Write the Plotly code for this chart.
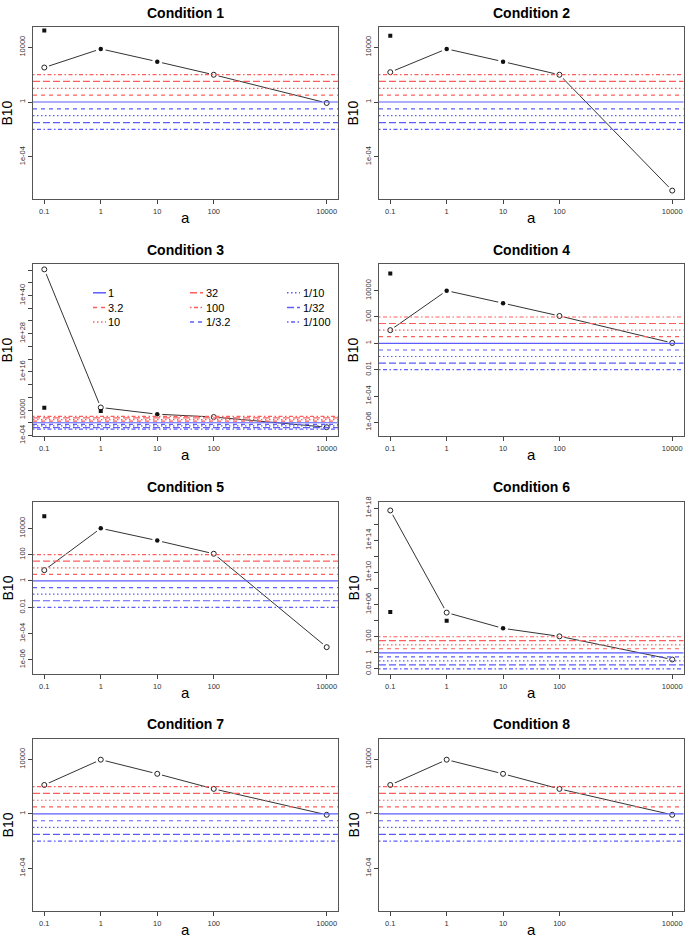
import plotly.graph_objects as go
from plotly.subplots import make_subplots

# ---------------- data ----------------
a_vals = [0.1, 1, 10, 100, 10000]
x_ticktext = ["0.1", "1", "10", "100", "10000"]

titles = ["Condition 1", "Condition 2", "Condition 3", "Condition 4",
          "Condition 5", "Condition 6", "Condition 7", "Condition 8"]

b10_c1 = [331, 7600, 890, 98, 0.85]
b10_c2 = [151, 7600, 890, 98, 3.4e-7]
b10_c3 = [1.6e48, 6.3e4, 500, 63, 0.04]
b10_c4 = [10, 1.0e4, 1120, 120, 1.07]
b10_c5 = [6.6, 1.0e4, 1175, 117, 9.3e-6]
b10_c6 = [5.0e17, 1.0e5, 1100, 112, 0.148]
b10_c7 = [132, 9500, 870, 68, 0.85]
b10_c8 = [132, 9500, 870, 68, 0.85]

filled_c1 = [False, True, True, False, False]
filled_c2 = [False, True, True, False, False]
filled_c3 = [False, False, True, False, False]
filled_c4 = [False, True, True, False, False]
filled_c5 = [False, True, True, False, False]
filled_c6 = [False, False, True, False, False]
filled_c7 = [False, False, False, False, False]
filled_c8 = [False, False, False, False, False]

sq_a_c1, sq_b_c1 = [0.1], [1.66e5]
sq_a_c2, sq_b_c2 = [0.1], [6.9e4]
sq_a_c3, sq_b_c3 = [0.1, 1], [5.0e4, 5.0e3]
sq_a_c4, sq_b_c4 = [0.1], [2.0e5]
sq_a_c5, sq_b_c5 = [0.1], [8.3e4]
sq_a_c6, sq_b_c6 = [0.1, 1], [1.15e5, 9.8e3]
sq_a_c7, sq_b_c7 = [], []
sq_a_c8, sq_b_c8 = [], []

ref_values = [1, 3.2, 10, 32, 100, 1 / 3.2, 1 / 10, 1 / 32, 1 / 100]
ref_labels = ["1", "3.2", "10", "32", "100", "1/3.2", "1/10", "1/32", "1/100"]

# y tick values / labels per panel
yt_std = [1e-4, 1, 1e4]
yl_std = ["1e-04", "1", "10000"]
yt_c3 = [10.0 ** p for p in range(-4, 49, 4)]
yl_c3 = ["1e-04", "", "10000", "", "", "1e+16", "", "", "1e+28", "", "", "1e+40", "", ""]
yt_c45 = [1e-6, 1e-4, 1e-2, 1, 1e2, 1e4]
yl_c45 = ["1e-06", "1e-04", "0.01", "1", "100", "10000"]
yt_c6 = [10.0 ** p for p in range(-2, 19, 2)]
yl_c6 = ["0.01", "1", "100", "", "1e+06", "", "1e+10", "", "1e+14", "", "1e+18"]

# ---------------- styling ----------------
W, H = 685, 944
FONT = "Liberation Sans, Arial, Helvetica, sans-serif"
RED = "#ff5c5c"
BLUE = "#5c5cff"
ref_colors = [BLUE, RED, RED, RED, RED, BLUE, BLUE, BLUE, BLUE]
ref_dash = ["solid", "4px,4px", "1.5px,2.5px", "7px,3px", "1.5px,2.5px,4px,2.5px",
            "4px,4px", "1.5px,2.5px", "7px,3px", "1.5px,2.5px,4px,2.5px"]

panels = [
    (b10_c1, filled_c1, sq_a_c1, sq_b_c1, (-7.12, 5.5), yt_std, yl_std),
    (b10_c2, filled_c2, sq_a_c2, sq_b_c2, (-7.12, 5.5), yt_std, yl_std),
    (b10_c3, filled_c3, sq_a_c3, sq_b_c3, (-4.3, 50.0), yt_c3, yl_c3),
    (b10_c4, filled_c4, sq_a_c4, sq_b_c4, (-7.07, 6.05), yt_c45, yl_c45),
    (b10_c5, filled_c5, sq_a_c5, sq_b_c5, (-7.1, 6.03), yt_c45, yl_c45),
    (b10_c6, filled_c6, sq_a_c6, sq_b_c6, (-2.68, 18.8), yt_c6, yl_c6),
    (b10_c7, filled_c7, sq_a_c7, sq_b_c7, (-7.16, 5.53), yt_std, yl_std),
    (b10_c8, filled_c8, sq_a_c8, sq_b_c8, (-7.16, 5.53), yt_std, yl_std),
]

# pixel layout of plot boxes
col_x = [(33, 338), (379, 683.5)]
row_y = [(22, 197), (262, 437), (503, 678), (743, 918)]
title_y = [7, 247, 487, 727]


def px_x(p):
    return p / W


def px_y(p):
    return 1 - p / H


fig = make_subplots(rows=4, cols=2)

annotations = []
for k, (b, filled, sqa, sqb, yr, ytv, ytt) in enumerate(panels):
    r, c = divmod(k, 2)
    row, col = r + 1, c + 1
    fig.add_trace(go.Scatter(x=a_vals, y=b, mode="lines",
                             line=dict(color="#333333", width=1),
                             showlegend=False, hoverinfo="skip"), row=row, col=col)
    fig.add_trace(go.Scatter(x=a_vals, y=b, mode="markers",
                             marker=dict(symbol="circle", size=10, color="white"),
                             showlegend=False, hoverinfo="skip"), row=row, col=col)
    ox = [a for a, f in zip(a_vals, filled) if not f]
    oy = [v for v, f in zip(b, filled) if not f]
    fx = [a for a, f in zip(a_vals, filled) if f]
    fy = [v for v, f in zip(b, filled) if f]
    fig.add_trace(go.Scatter(x=ox, y=oy, mode="markers",
                             marker=dict(symbol="circle-open", size=5, color="#222222",
                                         line=dict(width=1, color="#222222")),
                             showlegend=False), row=row, col=col)
    if fx:
        fig.add_trace(go.Scatter(x=fx, y=fy, mode="markers",
                                 marker=dict(symbol="circle", size=4.5, color="#111111"),
                                 showlegend=False), row=row, col=col)
    if sqa:
        fig.add_trace(go.Scatter(x=sqa, y=sqb, mode="markers",
                                 marker=dict(symbol="square", size=4, color="#111111"),
                                 showlegend=False), row=row, col=col)
    for v, colr, d in zip(ref_values, ref_colors, ref_dash):
        fig.add_hline(y=v, line=dict(color=colr, width=1.2, dash=d), row=row, col=col)

    x0, x1 = col_x[c]
    y0, y1 = row_y[r]
    sfx = "" if k == 0 else str(k + 1)
    fig.layout["xaxis" + sfx].update(
        domain=[px_x(x0), px_x(x1)], type="log", range=[-1.2, 4.2],
        tickvals=a_vals, ticktext=x_ticktext, ticks="outside", ticklen=4,
        tickcolor="#444444", tickfont=dict(size=7.5, color="#333333", family=FONT),
        showline=True, mirror=True, linecolor="#555555", linewidth=1,
        showgrid=False, zeroline=False, ticklabelstandoff=1)
    fig.layout["yaxis" + sfx].update(
        domain=[px_y(y1), px_y(y0)], type="log", range=list(yr),
        tickvals=ytv, ticktext=ytt, ticks="outside", ticklen=4, tickangle=-90,
        tickcolor="#444444", tickfont=dict(size=7.5, color="#333333", family=FONT),
        showline=True, mirror=True, linecolor="#555555", linewidth=1,
        showgrid=False, zeroline=False)

    cx = (x0 + x1) / 2
    annotations.append(dict(text="<b>" + titles[k] + "</b>", x=px_x(cx), y=px_y(title_y[r] + 1),
                            xref="paper", yref="paper", showarrow=False,
                            font=dict(size=14, family=FONT, color="black"),
                            xanchor="center", yanchor="middle"))
    annotations.append(dict(text="a", x=px_x(cx), y=px_y(y1 + 18),
                            xref="paper", yref="paper", showarrow=False,
                            font=dict(size=15, family=FONT, color="black"),
                            xanchor="center", yanchor="middle"))
    annotations.append(dict(text="B10", x=px_x(x0 - 25.5), y=px_y((y0 + y1) / 2),
                            xref="paper", yref="paper", showarrow=False, textangle=-90,
                            font=dict(size=14, family=FONT, color="black"),
                            xanchor="center", yanchor="middle"))

# legend in Condition 3 panel (3 columns, filled column-wise)
leg_cols = [93, 190, 287]
leg_rows = [291.5, 306.5, 321]
shapes = list(fig.layout.shapes)
for i, (lab, colr, d) in enumerate(zip(ref_labels, ref_colors, ref_dash)):
    cx0 = leg_cols[i // 3]
    ry = leg_rows[i % 3]
    shapes.append(dict(type="line", xref="paper", yref="paper",
                       x0=px_x(cx0), x1=px_x(cx0 + 13), y0=px_y(ry), y1=px_y(ry),
                       line=dict(color=colr, width=1.5, dash=d)))
    annotations.append(dict(text=lab, x=px_x(cx0 + 13.5), y=px_y(ry),
                            xref="paper", yref="paper", showarrow=False,
                            font=dict(size=11, family=FONT, color="black"),
                            xanchor="left", yanchor="middle"))

fig.update_layout(width=W, height=H, margin=dict(l=0, r=0, t=0, b=0),
                  paper_bgcolor="white", plot_bgcolor="white",
                  annotations=annotations, shapes=shapes, showlegend=False,
                  font=dict(family=FONT))

fig.write_html("out.html", config={"displayModeBar": False},
               post_script="document.body.style.margin='0';document.body.style.overflow='hidden';")
